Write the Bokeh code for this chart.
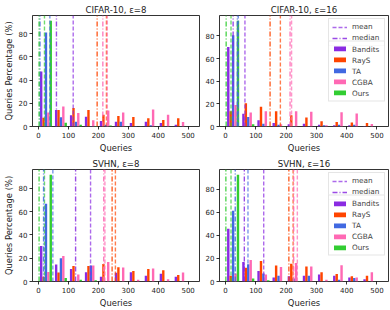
import numpy as np
from bokeh.plotting import figure
from bokeh.layouts import gridplot
from bokeh.models import ColumnDataSource, Legend, LegendItem, FixedTicker, Range1d
from bokeh.embed import file_html
from bokeh.resources import INLINE

methods = ["Bandits", "RayS", "TA", "CGBA", "Ours"]
colors = ["#8A2BE2", "#FF4500", "#4169E1", "#FF69B4", "#32CD32"]
bin_edges = [0, 50, 100, 150, 200, 250, 300, 350, 400, 450, 500]
x_ticks = [0, 100, 200, 300, 400, 500]
y_ticks = [0, 20, 40, 60, 80]

titles = ["CIFAR-10, ε=8", "CIFAR-10, ε=16", "SVHN, ε=8", "SVHN, ε=16"]

cifar8 = {
    "Bandits": [47.3, 14.1, 9.6, 8.5, 4.8, 4.0, 3.0, 4.0, 3.0, 1.5],
    "RayS": [7.5, 14.1, 16.0, 14.3, 10.2, 9.0, 8.2, 7.0, 5.7, 7.0],
    "TA": [81.0, 8.0, 4.0, 0.5, 1.5, 4.0, 0.4, 1.0, 0.3, 0.2],
    "CGBA": [12.0, 17.3, 11.7, 5.3, 13.8, 12.0, 0.0, 14.6, 10.2, 3.8],
    "Ours": [91.0, 3.2, 1.5, 0.5, 0.8, 0.3, 0.2, 0.0, 0.0, 0.0],
}
cifar16 = {
    "Bandits": [70.2, 11.2, 5.5, 3.0, 2.0, 2.5, 1.5, 1.0, 1.0, 0.5],
    "RayS": [13.5, 20.5, 17.5, 13.5, 10.0, 8.0, 4.7, 4.0, 3.6, 3.0],
    "TA": [80.6, 8.4, 2.5, 1.5, 0.5, 0.5, 1.0, 1.5, 1.5, 0.0],
    "CGBA": [19.0, 12.3, 13.5, 2.0, 13.5, 13.0, 1.0, 12.6, 11.5, 2.2],
    "Ours": [93.3, 2.0, 0.5, 0.5, 0.0, 0.0, 0.0, 0.0, 0.0, 0.0],
}
svhn8 = {
    "Bandits": [30.4, 14.5, 10.7, 8.0, 4.0, 7.4, 8.0, 5.0, 6.6, 4.0],
    "RayS": [4.0, 7.7, 13.4, 13.2, 15.0, 12.3, 9.0, 10.7, 9.6, 5.5],
    "TA": [66.6, 20.0, 0.5, 13.7, 0.0, 0.0, 0.0, 0.0, 0.0, 0.0],
    "CGBA": [8.2, 21.9, 6.0, 13.7, 16.7, 12.0, 1.5, 11.2, 2.0, 7.7],
    "Ours": [91.5, 3.0, 1.5, 1.0, 0.5, 0.0, 0.0, 0.0, 0.0, 0.0],
}
svhn16 = {
    "Bandits": [45.7, 17.0, 9.2, 3.4, 4.5, 5.0, 6.0, 5.0, 3.5, 2.0],
    "RayS": [5.0, 12.0, 17.8, 13.9, 15.5, 13.0, 8.0, 6.5, 4.5, 5.0],
    "TA": [61.3, 15.0, 7.0, 5.0, 2.5, 5.0, 0.5, 1.5, 3.0, 0.0],
    "CGBA": [7.0, 18.7, 6.1, 12.5, 16.0, 13.0, 1.5, 14.0, 3.5, 8.0],
    "Ours": [92.5, 2.5, 1.0, 0.3, 0.3, 0.0, 0.0, 0.0, 0.0, 0.0],
}

# mean / median query counts per method (Bandits, RayS, TA, CGBA, Ours)
cifar8_mean = [116, 227, 38, 230, 20]
cifar8_median = [60, 196, 5, 215, 2]
cifar16_mean = [64, 181, 42, 218, 18]
cifar16_median = [25, 147, 39, 213, 2]
svhn8_mean = [174, 257, 48, 222, 20]
svhn8_median = [124, 246, 17, 218, 2]
svhn16_mean = [126, 223, 74, 237, 18]
svhn16_median = [62, 209, 32, 225, 1]

FONT = "DejaVu Sans"


def make_panel(title, data, means, medians, left_col, top_row):
    ymax = max(max(v) for v in data.values()) * 1.05
    w = 202 if left_col else 188
    h = 155
    p = figure(width=w, height=h, output_backend="svg", toolbar_location=None,
               x_range=Range1d(-20, 538), y_range=Range1d(0, ymax),
               min_border_left=27 if left_col else 14,
               min_border_right=3 if left_col else 2,
               min_border_top=15 if top_row else 12,
               min_border_bottom=24 if top_row else 26)
    p.title.text = title
    p.title.align = "center"
    p.title.text_font = FONT
    p.title.text_font_size = "8.6px"
    p.title.text_font_style = "normal"
    p.title.text_color = "#222222"
    p.title.standoff = 2
    p.title.offset = 0

    edges = np.array(bin_edges, dtype=float)
    bw = edges[1] - edges[0]
    n = len(methods)
    bar_w = 0.8 * bw / n
    bar_renderers = []
    for i, m in enumerate(methods):
        xs = edges[:-1] + 0.1 * bw + bar_w * (i + 0.5)
        src = ColumnDataSource(dict(x=xs, top=data[m]))
        r = p.vbar(x="x", top="top", bottom=0, width=bar_w, source=src,
                   fill_color=colors[i], line_color=None)
        bar_renderers.append(r)

    mean_src = ColumnDataSource(dict(x=means, y0=[0] * n, y1=[ymax] * n, c=colors))
    med_src = ColumnDataSource(dict(x=medians, y0=[0] * n, y1=[ymax] * n, c=colors))
    mean_r = p.segment(x0="x", x1="x", y0="y0", y1="y1", source=mean_src,
                       line_color="c", line_width=1.4, line_alpha=0.7, line_dash="4 2")
    med_r = p.segment(x0="x", x1="x", y0="y0", y1="y1", source=med_src,
                      line_color="c", line_width=1.4, line_alpha=0.85, line_dash="5 2 1 2")

    p.xgrid.visible = False
    p.ygrid.visible = False
    p.outline_line_color = "black"
    p.outline_line_width = 0.8
    p.outline_line_alpha = 1

    for ax, ticks in ((p.xaxis, x_ticks), (p.yaxis, y_ticks)):
        ax.ticker = FixedTicker(ticks=ticks)
        ax.axis_line_color = None
        ax.major_tick_in = 0
        ax.major_tick_out = 3
        ax.minor_tick_line_color = None
        ax.major_tick_line_color = "black"
        ax.major_tick_line_width = 0.8
        ax.major_label_text_font = FONT
        ax.major_label_text_font_size = "7px"
        ax.major_label_text_color = "#222222"
        ax.major_label_standoff = 2
        ax.axis_label_text_font = FONT
        ax.axis_label_text_font_size = "8.4px"
        ax.axis_label_text_font_style = "normal"
        ax.axis_label_text_color = "#222222"
        ax.axis_label_standoff = 2

    p.xaxis.axis_label = "Queries"
    if left_col:
        p.yaxis.axis_label = "Queries Percentage (%)"

    if not left_col:
        common = dict(label_text_font=FONT, label_text_font_size="7.3px",
                      glyph_width=15, label_width=29, label_height=9,
                      label_standoff=5, padding=3, spacing=2, margin=3,
                      border_line_color="#cccccc", border_line_width=1,
                      background_fill_alpha=0.8)
        lg1 = Legend(items=[LegendItem(label="mean", renderers=[mean_r], index=0),
                            LegendItem(label="median", renderers=[med_r], index=0)],
                     location="top_right", glyph_height=8, **common)
        lg2 = Legend(items=[LegendItem(label=m, renderers=[bar_renderers[i]])
                            for i, m in enumerate(methods)],
                     location="center_right", glyph_height=6, **common)
        p.add_layout(lg1)
        p.add_layout(lg2)
    return p


p1 = make_panel(titles[0], cifar8, cifar8_mean, cifar8_median, True, True)
p2 = make_panel(titles[1], cifar16, cifar16_mean, cifar16_median, False, True)
p3 = make_panel(titles[2], svhn8, svhn8_mean, svhn8_median, True, False)
p4 = make_panel(titles[3], svhn16, svhn16_mean, svhn16_median, False, False)

grid = gridplot([[p1, p2], [p3, p4]], toolbar_location=None)

open("out.html", "w").write(file_html(grid, INLINE))
